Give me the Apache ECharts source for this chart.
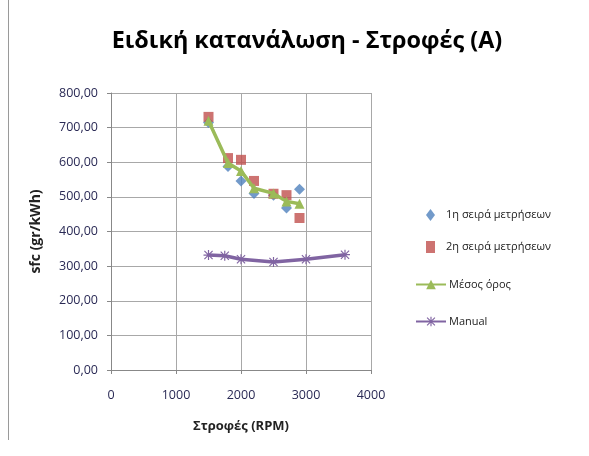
<!DOCTYPE html>
<html>
<head>
<meta charset="utf-8">
<script src="https://cdn.jsdelivr.net/npm/echarts@6/dist/echarts.min.js"></script>
<style>
  html, body { margin: 0; padding: 0; background: #fff; }
  #chart { width: 589px; height: 456px; }
</style>
</head>
<body>
<div id="chart"></div>
<script>
// Engine speed (RPM) for the two measurement runs
const rpm = [1500, 1800, 2000, 2200, 2500, 2700, 2900];
// Specific fuel consumption, gr/kWh
const run1 = [715, 588, 546, 510, 505, 468, 522];
const run2 = [731, 612, 607, 546, 509, 505, 439];
const meanValues = [720, 598, 575, 525, 510, 487, 480];
// Manufacturer's manual curve
const manualRpm = [1500, 1750, 2000, 2500, 3000, 3600];
const manualValues = [332, 330, 320, 312, 320, 333];

const seriesNames = ['1η σειρά μετρήσεων', '2η σειρά μετρήσεων', 'Μέσος όρος', 'Manual'];
const yTicks = [0, 100, 200, 300, 400, 500, 600, 700, 800];
const xTicks = [0, 1000, 2000, 3000, 4000];

const pairs = (xs, ys) => xs.map((x, i) => [x, ys[i]]);
const FONT = '"Open Sans", sans-serif';
const starSymbol = 'path://M4.4,0H5.6V10H4.4Z M0,4.4H10V5.6H0Z M1.3,0.5L9.5,8.7L8.7,9.5L0.5,1.3Z M8.7,0.5L9.5,1.3L1.3,9.5L0.5,8.7Z';

const chart = echarts.init(document.getElementById('chart'), null, { renderer: 'canvas' });
chart.setOption({
  backgroundColor: '#ffffff',
  animation: false,
  title: {
    text: 'Ειδική κατανάλωση - Στροφές (A)',
    left: 302,
    textAlign: 'center',
    top: 25,
    textStyle: { fontFamily: FONT, fontSize: 23.4, fontWeight: 'bold', color: '#000' }
  },
  graphic: [{
    type: 'line',
    shape: { x1: 8.5, y1: 0, x2: 8.5, y2: 440 },
    style: { stroke: '#9a9a9a', lineWidth: 1 }
  }],
  legend: [
    {
      orient: 'vertical',
      left: 421,
      top: 204,
      itemGap: 20,
      itemWidth: 9,
      itemHeight: 12,
      data: seriesNames.slice(0, 2),
      textStyle: { fontFamily: FONT, fontSize: 11, color: '#222', padding: [0, 0, 0, 6] }
    },
    {
      orient: 'vertical',
      left: 410,
      top: 274,
      itemGap: 26,
      itemWidth: 30,
      itemHeight: 12,
      data: seriesNames.slice(2),
      textStyle: { fontFamily: FONT, fontSize: 11, color: '#222', padding: [0, 0, 0, -2] }
    }
  ],
  grid: { left: 111, right: 218, top: 93, bottom: 86 },
  xAxis: {
    type: 'value',
    min: xTicks[0],
    max: xTicks[xTicks.length - 1],
    interval: 1000,
    name: 'Στροφές (RPM)',
    nameLocation: 'middle',
    nameGap: 50,
    nameTextStyle: { fontFamily: FONT, fontSize: 13, fontWeight: 'bold', color: '#222' },
    axisLine: { lineStyle: { color: '#888' } },
    axisTick: { show: true, length: 4, lineStyle: { color: '#888' } },
    axisLabel: { fontFamily: FONT, fontSize: 12.5, color: '#2a2a55', margin: 19, formatter: v => String(v) },
    splitLine: { show: true, lineStyle: { color: '#a8a8a8' } }
  },
  yAxis: {
    type: 'value',
    min: yTicks[0],
    max: yTicks[yTicks.length - 1],
    interval: 100,
    name: 'sfc (gr/kWh)',
    nameLocation: 'middle',
    nameGap: 68,
    nameRotate: 90,
    nameTextStyle: { fontFamily: FONT, fontSize: 14, fontWeight: 'bold', color: '#222' },
    axisLine: { show: true, lineStyle: { color: '#888' } },
    axisTick: { show: true, length: 4, lineStyle: { color: '#888' } },
    axisLabel: {
      fontFamily: FONT, fontSize: 12.5, color: '#2a2a55', margin: 13,
      formatter: v => v.toFixed(2).replace('.', ',')
    },
    splitLine: { show: true, lineStyle: { color: '#a8a8a8' } }
  },
  series: [
    {
      name: seriesNames[0],
      type: 'scatter',
      data: pairs(rpm, run1),
      symbol: 'diamond',
      symbolSize: 11,
      itemStyle: { color: '#4F81BD' },
      z: 3
    },
    {
      name: seriesNames[1],
      type: 'scatter',
      data: pairs(rpm, run2),
      symbol: 'rect',
      symbolSize: 10,
      itemStyle: { color: '#C0504D' },
      z: 4
    },
    {
      name: seriesNames[2],
      type: 'line',
      data: pairs(rpm, meanValues),
      symbol: 'triangle',
      symbolSize: 10,
      showSymbol: true,
      lineStyle: { color: '#9BBB59', width: 3.5 },
      itemStyle: { color: '#9BBB59' },
      z: 5
    },
    {
      name: seriesNames[3],
      type: 'line',
      data: pairs(manualRpm, manualValues),
      symbol: starSymbol,
      symbolSize: 10,
      showSymbol: true,
      lineStyle: { color: '#8064A2', width: 3.5 },
      itemStyle: { color: '#8064A2' },
      z: 5
    }
  ]
});
</script>
</body>
</html>
